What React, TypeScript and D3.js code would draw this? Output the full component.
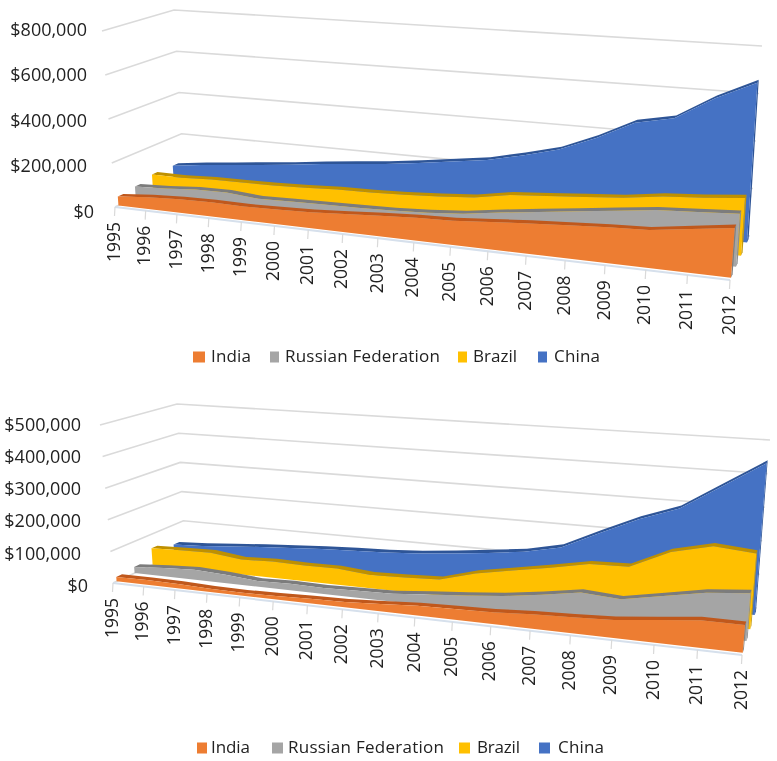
import React from "react";
import * as d3 from "d3";

const years = d3.range(1995, 2013).map(String);
const seriesNames = ["India", "Russian Federation", "Brazil", "China"];
const topIndia = [41,53,60,63,61,65,69,79,89,98,102,115,127,137,147,154,177,200].map(d => d * 1000);
const topRussia = [51,57,68,70,58,62,65,68,72,80,93,115,135,155,175,195,205,215].map(d => d * 1000);
const topBrazil = [70,70,77,78,80,86,93,96,102,111,123,150,162,175,188,210,222,238].map(d => d * 1000);
const topChina = [68,85,100,115,130,148,163,178,197,218,240,275,315,380,460,492,590,668].map(d => d * 1000);
const botIndia = [14,15,14,10,9,11,14,16,22,29,32,35,42,46,51,64,77,77].map(d => d * 1000);
const botRussia = [20,27,32,27,18,21,19,22,24,34,43,53,69,88,80,102,124,135].map(d => d * 1000);
const botBrazil = [55,58,60,48,52,50,51,42,45,50,80,100,120,142,145,200,228,218].map(d => d * 1000);
const botChina = [35,40,48,56,63,69,74,78,85,96,108,122,146,200,252,294,370,447].map(d => d * 1000);
const topTicks = [0, 200000, 400000, 600000, 800000];
const botTicks = [0, 100000, 200000, 300000, 400000, 500000];

const faceColors = ["#ED7D31", "#A5A5A5", "#FFC000", "#4472C4"];
const ribbonColors = ["#C0581C", "#7C7C7C", "#BF9000", "#2F5597"];
const sideColors = ["#7f7f7f", "#8f8f8f", "#C49A10", "#2F5597"];
const depthFront = [0.05, 0.3, 0.55, 0.85];
const depthBand = 0.08;

type P = [number, number];
interface Geo {
  F0: P; F1: P; B0: P; B1: P; TF0: P; TF1: P; TB0: P; TB1: P;
  max: number; k: number; labelRight: number; labelY: [number, number];
}
const topGeo: Geo = {
  F0: [115, 207], F1: [730, 280], B0: [184, 175], B1: [750, 236],
  TF0: [102, 31], TF1: [745, 80], TB0: [174, 10], TB1: [762, 46],
  max: 800000, k: 0.84, labelRight: 87, labelY: [213, 31],
};
const botGeo: Geo = {
  F0: [113, 583], F1: [742, 655], B0: [185, 550], B1: [757, 608],
  TF0: [100, 425], TF1: [757, 475], TB0: [177, 404], TB1: [770, 440],
  max: 500000, k: 0.82, labelRight: 81, labelY: [587, 426],
};

const lerp = (a: P, b: P, t: number): P => [a[0] + (b[0] - a[0]) * t, a[1] + (b[1] - a[1]) * t];
const FONT = "'Open Sans', sans-serif";
const TEXT = "#222222";
const polyline = d3.line<P>();

function makeProjector(g: Geo) {
  const tScale = d3.scaleLinear().domain([0, years.length - 1]).range([0, 1]);
  const vScale = d3.scaleLinear().domain([0, g.max]).range([0, 1]);
  const warp = (t: number) => (g.k * t) / (g.k * t + 1 - t);
  return (i: number, v: number, z: number): P => {
    const s = warp(tScale(i));
    const floor = lerp(lerp(g.F0, g.F1, s), lerp(g.B0, g.B1, s), z);
    const ceil = lerp(lerp(g.TF0, g.TF1, s), lerp(g.TB0, g.TB1, s), z);
    return lerp(floor, ceil, vScale(v));
  };
}

function Chart({ geo, ticks, data, legendY, legend }: {
  geo: Geo; ticks: number[]; data: number[][]; legendY: number;
  legend: { sx: number; sw: number; tx: number; tw: number }[];
}) {
  const pr = makeProjector(geo);
  const n = years.length;
  const fmt = (v: number) => "$" + d3.format(",")(v);
  const idx = d3.range(n);
  const labelY = d3.scaleLinear().domain([0, geo.max]).range(geo.labelY);
  return (
    <g>
      {ticks.map(v => (
        <path key={v} fill="none" stroke="#DADADA" strokeWidth={1.6}
          d={polyline([pr(0, v, 0), pr(0, v, 1), pr(n - 1, v, 1)]) || ""} />
      ))}
      {ticks.map(v => (
        <text key={v} x={geo.labelRight + (v === 0 ? 7 : 0)} y={labelY(v)}
          textAnchor="end" dominantBaseline="middle" fontFamily={FONT} fontSize={18} fill={TEXT}>{fmt(v)}</text>
      ))}
      <path d={polyline([pr(0, 0, 0), pr(n - 1, 0, 0)]) || ""} stroke="#D6E0EC" strokeWidth={2} fill="none" />
      {idx.map(i => {
        const p = pr(i, 0, 0);
        return (
          <g key={i}>
            <line x1={p[0]} y1={p[1]} x2={p[0] - 0.5} y2={p[1] + 9} stroke="#D9D9D9" strokeWidth={1.2} />
            <text transform={`translate(${p[0]},${p[1] + 15}) rotate(-90)`} textAnchor="end"
              dominantBaseline="middle" fontFamily={FONT} fontSize={17.5} fill={TEXT}>{years[i]}</text>
          </g>
        );
      })}
      {[3, 2, 1, 0].map(si => {
        const vals = data[si];
        const zf = depthFront[si];
        const zb = zf + depthBand;
        const front: P[] = [
          ...idx.map(i => pr(i, vals[i], zf)),
          pr(n - 1, 0, zf), pr(0, 0, zf),
        ];
        const ribbon: P[] = [
          ...idx.map(i => pr(i, vals[i], zf)),
          ...idx.slice().reverse().map(i => pr(i, vals[i], zb)),
        ];
        const side: P[] = [pr(n - 1, vals[n - 1], zf), pr(n - 1, vals[n - 1], zb), pr(n - 1, 0, zb), pr(n - 1, 0, zf)];
        return (
          <g key={si}>
            <path d={(polyline(side) || "") + "Z"} fill={sideColors[si]} />
            <path d={(polyline(ribbon) || "") + "Z"} fill={ribbonColors[si]} />
            <path d={(polyline(front) || "") + "Z"} fill={faceColors[si]} />
          </g>
        );
      })}
      {seriesNames.map((name, si) => {
        const l = legend[si];
        return (
          <g key={name}>
            <rect x={l.sx} y={legendY - 5.5} width={l.sw} height={11} fill={faceColors[si]} />
            <text x={l.tx} y={legendY} dominantBaseline="middle" fontFamily={FONT} fontSize={17} fill={TEXT}
              textLength={l.tw} lengthAdjust="spacing">{name}</text>
          </g>
        );
      })}
    </g>
  );
}

export default function App() {
  return (
    <svg width={777} height={761} viewBox="0 0 777 761"
      style={{ position: "absolute", left: 0, top: 0, background: "#fff" }}>
      <defs>
        <filter id="soft" x="0" y="0" width="100%" height="100%" filterUnits="userSpaceOnUse">
          <feGaussianBlur stdDeviation="0.45" />
        </filter>
      </defs>
      <g filter="url(#soft)">
        <rect width={777} height={761} fill="#fff" />
        <Chart geo={topGeo} ticks={topTicks} data={[topIndia, topRussia, topBrazil, topChina]} legendY={357}
          legend={[
            { sx: 193, sw: 12, tx: 211, tw: 40 },
            { sx: 270, sw: 9, tx: 285, tw: 155 },
            { sx: 458, sw: 9, tx: 473, tw: 44 },
            { sx: 538, sw: 9, tx: 554, tw: 46 },
          ]} />
        <Chart geo={botGeo} ticks={botTicks} data={[botIndia, botRussia, botBrazil, botChina]} legendY={748}
          legend={[
            { sx: 197, sw: 10, tx: 211, tw: 39 },
            { sx: 272, sw: 11, tx: 288, tw: 156 },
            { sx: 459, sw: 11, tx: 477, tw: 43 },
            { sx: 539, sw: 11, tx: 558, tw: 46 },
          ]} />
      </g>
    </svg>
  );
}
